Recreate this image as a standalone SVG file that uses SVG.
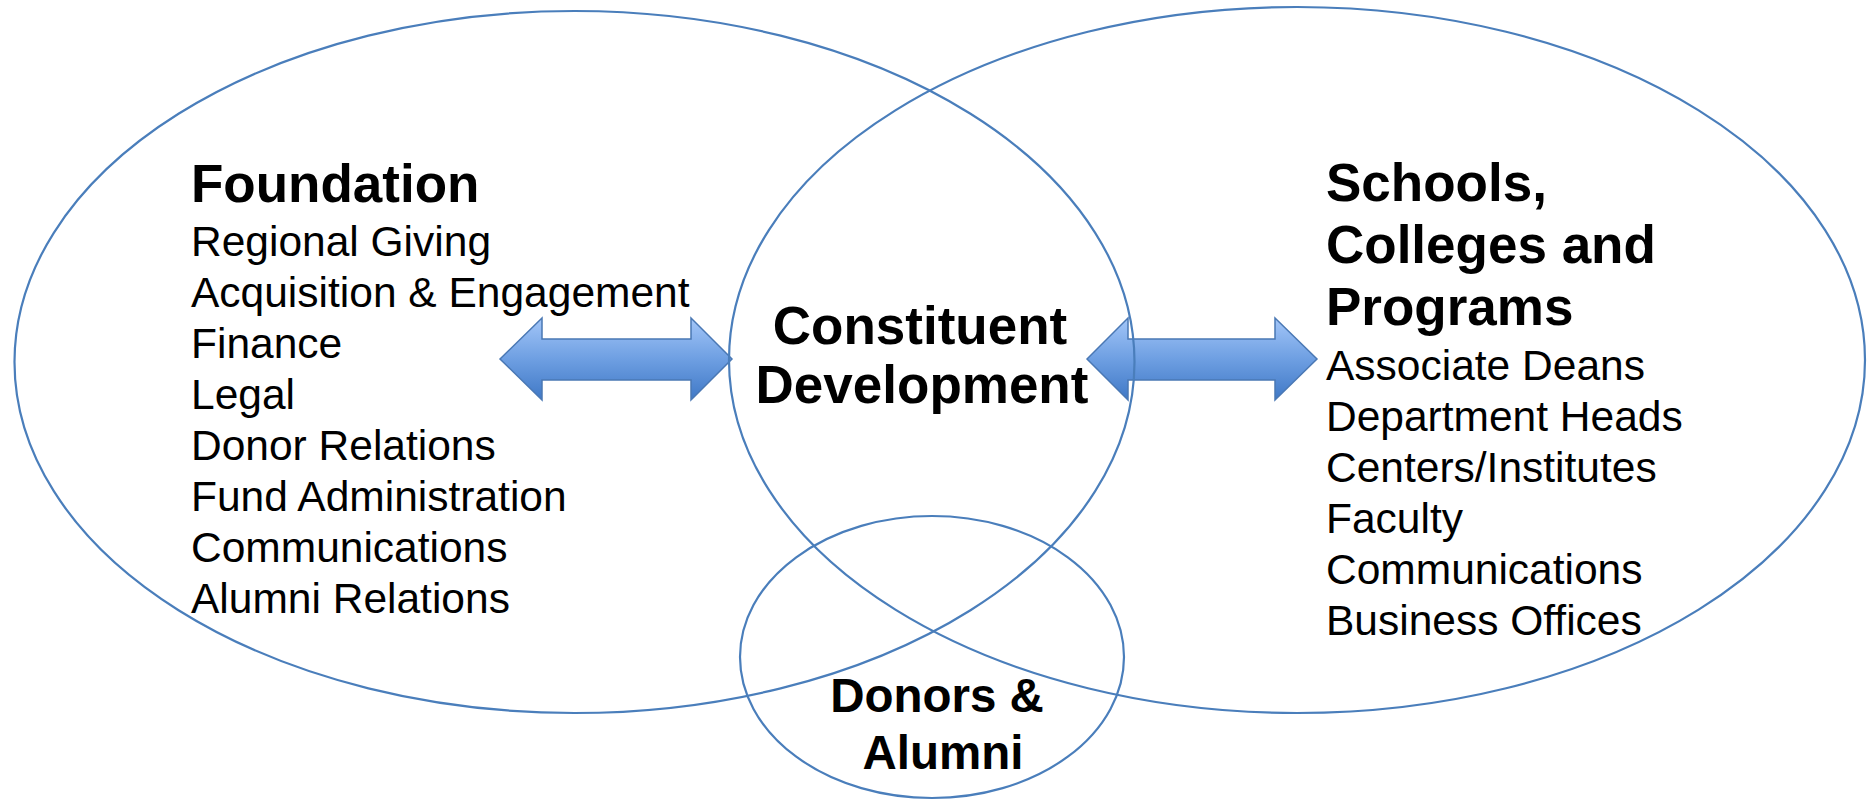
<svg xmlns="http://www.w3.org/2000/svg" width="1873" height="801" viewBox="0 0 1873 801">
  <defs>
    <linearGradient id="arrowGrad" x1="0" y1="0" x2="0" y2="1">
      <stop offset="0" stop-color="#a3c6f8"/>
      <stop offset="0.5" stop-color="#6e9fe2"/>
      <stop offset="1" stop-color="#3f78c6"/>
    </linearGradient>
  </defs>
  <style>
    .ell { fill: none; stroke: #4a7ebb; stroke-width: 2.2; }
    .arrow { fill: url(#arrowGrad); stroke: #4a78b4; stroke-width: 1.5; stroke-linejoin: miter; }
    .head { font-family: "Liberation Sans", Arial, sans-serif; font-weight: bold; font-size: 53px; fill: #000; }
    .item { font-family: "Liberation Sans", Arial, sans-serif; font-size: 42.5px; fill: #000; }
    .center { font-family: "Liberation Sans", Arial, sans-serif; font-weight: bold; font-size: 53px; fill: #000; text-anchor: middle; }
    .donor { font-family: "Liberation Sans", Arial, sans-serif; font-weight: bold; font-size: 47.5px; fill: #000; text-anchor: middle; }
  </style>
  <rect x="0" y="0" width="1873" height="801" fill="#ffffff"/>

  <g id="connectors">
    <path class="arrow" d="M500,359 L542,318 L542,339 L691,339 L691,318 L732,359 L691,400 L691,380 L542,380 L542,400 Z"/>
    <path class="arrow" d="M1087,359 L1128,318 L1128,339 L1275,339 L1275,318 L1317,359 L1275,400 L1275,380 L1128,380 L1128,400 Z"/>
  </g>

  <g id="foundation">
    <ellipse class="ell" cx="574.5" cy="362" rx="560" ry="351"/>
    <text class="head" x="191" y="202">Foundation</text>
    <text class="item" x="191" y="256">Regional Giving</text>
    <text class="item" x="191" y="307">Acquisition &amp; Engagement</text>
    <text class="item" x="191" y="358">Finance</text>
    <text class="item" x="191" y="409">Legal</text>
    <text class="item" x="191" y="460">Donor Relations</text>
    <text class="item" x="191" y="511">Fund Administration</text>
    <text class="item" x="191" y="562">Communications</text>
    <text class="item" x="191" y="613">Alumni Relations</text>
  </g>

  <g id="schools">
    <ellipse class="ell" cx="1297" cy="360" rx="568" ry="353"/>
    <text class="head" x="1326" y="201">Schools,</text>
    <text class="head" x="1326" y="263">Colleges and</text>
    <text class="head" x="1326" y="325">Programs</text>
    <text class="item" x="1326" y="380">Associate Deans</text>
    <text class="item" x="1326" y="431">Department Heads</text>
    <text class="item" x="1326" y="482">Centers/Institutes</text>
    <text class="item" x="1326" y="533">Faculty</text>
    <text class="item" x="1326" y="584">Communications</text>
    <text class="item" x="1326" y="635">Business Offices</text>
  </g>

  <g id="constituent">
    <text class="center" x="920" y="344">Constituent</text>
    <text class="center" x="922" y="403">Development</text>
  </g>

  <g id="donors">
    <ellipse class="ell" cx="932" cy="657" rx="192" ry="141"/>
    <text class="donor" x="937" y="712">Donors &amp;</text>
    <text class="donor" x="943" y="769">Alumni</text>
  </g>
</svg>
